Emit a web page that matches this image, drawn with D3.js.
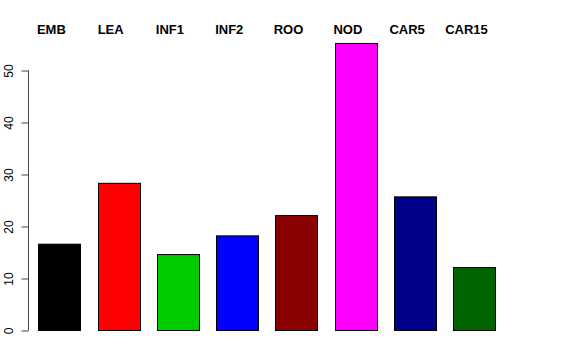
<!DOCTYPE html>
<meta charset="utf-8">
<html>
  <head>
    <title>barplot</title>
    <style>
      body { margin: 0; background: #fff; }
      svg { display: block; font-family: "Liberation Sans", Arial, sans-serif; }
    </style>
  </head>
  <body>
    <script src="https://d3js.org/d3.v7.min.js"></script>
    <script>

    // data
    var groups = ["EMB", "LEA", "INF1", "INF2", "ROO", "NOD", "CAR5", "CAR15"];
    var values = [16.6, 28.3, 14.6, 18.2, 22.1, 55.2, 25.7, 12.1];
    var colors = ["#000000", "#ff0000", "#00cd00", "#0000ff", "#8b0000", "#ff00ff", "#00008b", "#006400"];
    var yTicks = [0, 10, 20, 30, 40, 50];

    var width = 576, height = 360;

    var svg = d3.select("body").append("svg")
        .attr("width", width)
        .attr("height", height);

    var x = d3.scaleBand()
        .domain(groups)
        .range([29.7, 504.1])
        .paddingInner(0.29)
        .paddingOuter(0.145);

    var y = d3.scaleLinear()
        .domain([0, 50])
        .range([330.5, 70.5]);

    // bars
    svg.append("g")
      .selectAll("rect")
      .data(groups)
      .enter().append("rect")
        .attr("x", function(d) { return Math.round(x(d)) + 0.5; })
        .attr("y", function(d, i) { return y(values[i]); })
        .attr("width", Math.round(x.bandwidth()))
        .attr("height", function(d, i) { return y(0) - y(values[i]); })
        .style("fill", function(d, i) { return colors[i]; })
        .style("stroke", "#000")
        .style("stroke-width", 1);

    // y axis, R style (rotated labels)
    var yAxis = d3.axisLeft(y)
        .tickValues(yTicks)
        .tickSize(7)
        .tickPadding(0);

    var ag = svg.append("g")
        .attr("transform", "translate(28.5,0)")
        .call(yAxis);

    ag.select(".domain")
        .attr("d", "M0," + y(0) + "V" + y(50))
        .style("stroke", "#444");
    ag.selectAll(".tick line").style("stroke", "#444");
    ag.selectAll(".tick text")
        .attr("x", null)
        .attr("dy", null)
        .attr("transform", "translate(-15.5,0) rotate(-90)")
        .style("text-anchor", "middle")
        .style("font-family", "'Liberation Sans', Arial, sans-serif")
        .style("font-size", "12px")
        .style("fill", "#000");

    // group labels on top
    svg.append("g")
      .selectAll("text")
      .data(groups)
      .enter().append("text")
        .attr("x", function(d) { return x(d) + x.bandwidth() / 2 - 8; })
        .attr("y", 34)
        .style("text-anchor", "middle")
        .style("font-weight", "bold")
        .style("font-size", "13px")
        .text(function(d) { return d; });

    </script>
  </body>
</html>
